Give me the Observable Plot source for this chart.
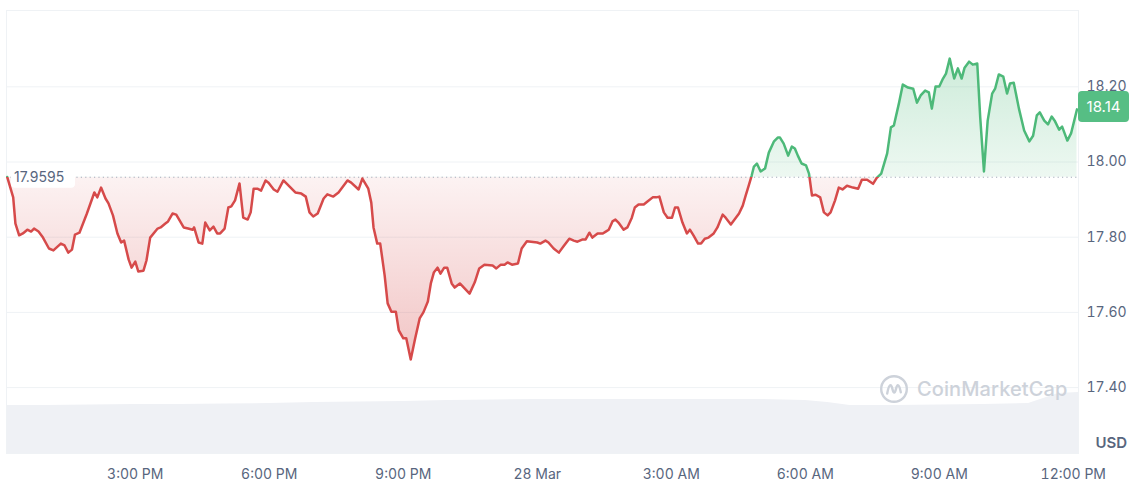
<!DOCTYPE html>
<html>
<head>
<meta charset="utf-8">
<script src="https://cdn.jsdelivr.net/npm/d3@7"></script>
<script src="https://cdn.jsdelivr.net/npm/@observablehq/plot@0.6"></script>
<style>
  html, body { margin: 0; padding: 0; background: #ffffff; }
  #wrap { position: relative; width: 1140px; height: 483px; overflow: hidden; font-family: Inter, "Noto Sans", sans-serif; }
  #wrap > svg, #wrap > figure { position: absolute; left: 0; top: 0; }
  #wm { position: absolute; left: 879px; top: 374px; display: flex; align-items: center; gap: 8px;
        color: #cdd2da; font: 500 20px Inter, sans-serif; letter-spacing: 0.1px; }
</style>
</head>
<body>
<div id="wrap"></div>
<script>
// ---------- data ----------
const times = [
  "03-27 12:08","03-27 12:16","03-27 12:19","03-27 12:24","03-27 12:29","03-27 12:35","03-27 12:40","03-27 12:44","03-27 12:50","03-27 12:56",
  "03-27 13:04","03-27 13:10","03-27 13:20","03-27 13:25","03-27 13:30","03-27 13:35","03-27 13:39","03-27 13:45","03-27 13:55","03-27 14:05",
  "03-27 14:09","03-27 14:14","03-27 14:20","03-27 14:24","03-27 14:30","03-27 14:36","03-27 14:41","03-27 14:45","03-27 14:51","03-27 14:55",
  "03-27 15:00","03-27 15:04","03-27 15:11","03-27 15:15","03-27 15:20","03-27 15:30","03-27 15:34","03-27 15:40","03-27 15:44","03-27 15:50",
  "03-27 15:55","03-27 16:05","03-27 16:11","03-27 16:17","03-27 16:19","03-27 16:25","03-27 16:30","03-27 16:34","03-27 16:40","03-27 16:45",
  "03-27 16:50","03-27 16:54","03-27 17:00","03-27 17:05","03-27 17:09","03-27 17:14","03-27 17:20","03-27 17:25","03-27 17:31","03-27 17:35",
  "03-27 17:39","03-27 17:44","03-27 17:49","03-27 17:55","03-27 17:59","03-27 18:06","03-27 18:11","03-27 18:19","03-27 18:26","03-27 18:35",
  "03-27 18:43","03-27 18:49","03-27 18:54","03-27 18:59","03-27 19:05","03-27 19:13","03-27 19:18","03-27 19:26","03-27 19:33","03-27 19:45",
  "03-27 19:50","03-27 20:00","03-27 20:05","03-27 20:13","03-27 20:17","03-27 20:20","03-27 20:25","03-27 20:29","03-27 20:35","03-27 20:39",
  "03-27 20:44","03-27 20:50","03-27 20:54","03-27 21:00","03-27 21:04","03-27 21:10","03-27 21:16","03-27 21:22","03-27 21:27","03-27 21:33",
  "03-27 21:37","03-27 21:41","03-27 21:46","03-27 21:50","03-27 21:55","03-27 21:59","03-27 22:05","03-27 22:09","03-27 22:16","03-27 22:29",
  "03-27 22:36","03-27 22:42","03-27 22:49","03-27 23:00","03-27 23:05","03-27 23:11","03-27 23:16","03-27 23:20","03-27 23:26","03-27 23:34",
  "03-27 23:39","03-27 23:46","03-28 00:00","03-28 00:04","03-28 00:11","03-28 00:15","03-28 00:22","03-28 00:29","03-28 00:35","03-28 00:43",
  "03-28 00:49","03-28 00:54","03-28 01:01","03-28 01:05","03-28 01:10","03-28 01:14","03-28 01:21","03-28 01:28","03-28 01:32","03-28 01:36",
  "03-28 01:41","03-28 01:45","03-28 01:49","03-28 01:56","03-28 02:01","03-28 02:07","03-28 02:11","03-28 02:16","03-28 02:23","03-28 02:28",
  "03-28 02:35","03-28 02:40","03-28 02:44","03-28 02:50","03-28 02:55","03-28 03:01","03-28 03:05","03-28 03:09","03-28 03:15","03-28 03:21",
  "03-28 03:25","03-28 03:30","03-28 03:36","03-28 03:40","03-28 03:45","03-28 03:50","03-28 03:57","03-28 04:02","03-28 04:09","03-28 04:13",
  "03-28 04:20","03-28 04:25","03-28 04:31","03-28 04:36","03-28 04:40","03-28 04:44","03-28 04:48","03-28 04:51","03-28 04:55","03-28 05:00",
  "03-28 05:06","03-28 05:11","03-28 05:18","03-28 05:23","03-28 05:26","03-28 05:31","03-28 05:37","03-28 05:42","03-28 05:46","03-28 05:50",
  "03-28 05:55","03-28 06:01","03-28 06:05","03-28 06:09","03-28 06:14","03-28 06:20","03-28 06:25","03-28 06:30","03-28 06:34","03-28 06:40",
  "03-28 06:45","03-28 06:50","03-28 06:56","03-28 07:04","03-28 07:11","03-28 07:16","03-28 07:23","03-28 07:31","03-28 07:36","03-28 07:42",
  "03-28 07:50","03-28 07:55","03-28 07:59","03-28 08:06","03-28 08:11","03-28 08:18","03-28 08:25","03-28 08:30","03-28 08:35","03-28 08:41",
  "03-28 08:46","03-28 08:50","03-28 08:55","03-28 09:00","03-28 09:05","03-28 09:09","03-28 09:14","03-28 09:20","03-28 09:25","03-28 09:30",
  "03-28 09:34","03-28 09:40","03-28 09:45","03-28 09:51","03-28 09:55","03-28 10:00","03-28 10:05","03-28 10:11","03-28 10:15","03-28 10:20",
  "03-28 10:26","03-28 10:31","03-28 10:35","03-28 10:40","03-28 10:47","03-28 10:54","03-28 11:01","03-28 11:06","03-28 11:11","03-28 11:15",
  "03-28 11:21","03-28 11:26","03-28 11:31","03-28 11:35","03-28 11:41","03-28 11:45","03-28 11:52","03-28 11:57","03-28 12:05"
];
const prices = [
  17.960,17.906,17.836,17.805,17.810,17.820,17.815,17.823,17.815,17.799,
  17.770,17.765,17.783,17.778,17.759,17.767,17.807,17.812,17.863,17.919,
  17.906,17.932,17.903,17.890,17.858,17.810,17.786,17.791,17.741,17.719,
  17.735,17.709,17.711,17.738,17.799,17.823,17.826,17.836,17.842,17.863,
  17.860,17.826,17.823,17.820,17.826,17.786,17.783,17.839,17.818,17.828,
  17.810,17.810,17.823,17.879,17.882,17.898,17.943,17.852,17.847,17.866,
  17.929,17.929,17.924,17.951,17.945,17.927,17.921,17.951,17.937,17.919,
  17.916,17.908,17.866,17.855,17.863,17.903,17.914,17.908,17.919,17.951,
  17.945,17.927,17.956,17.929,17.892,17.826,17.783,17.783,17.698,17.624,
  17.602,17.602,17.552,17.531,17.531,17.475,17.531,17.584,17.600,17.629,
  17.677,17.706,17.719,17.703,17.719,17.719,17.677,17.666,17.677,17.650,
  17.680,17.717,17.727,17.725,17.717,17.727,17.727,17.733,17.727,17.730,
  17.770,17.789,17.786,17.783,17.791,17.786,17.770,17.759,17.775,17.796,
  17.791,17.788,17.794,17.794,17.812,17.799,17.810,17.810,17.815,17.820,
  17.842,17.847,17.839,17.820,17.826,17.852,17.879,17.887,17.887,17.895,
  17.906,17.906,17.908,17.866,17.852,17.852,17.879,17.879,17.839,17.810,
  17.820,17.804,17.783,17.783,17.796,17.799,17.810,17.826,17.860,17.852,
  17.834,17.847,17.863,17.884,17.911,17.937,17.964,17.988,17.996,17.975,
  17.983,18.025,18.055,18.065,18.065,18.049,18.017,18.041,18.036,18.017,
  17.996,17.991,17.969,17.911,17.913,17.906,17.866,17.858,17.866,17.898,
  17.932,17.927,17.937,17.932,17.929,17.953,17.953,17.942,17.958,17.969,
  18.023,18.092,18.097,18.158,18.206,18.198,18.195,18.158,18.177,18.190,
  18.185,18.142,18.201,18.201,18.222,18.235,18.275,18.222,18.249,18.222,
  18.251,18.267,18.259,18.262,18.118,17.975,18.110,18.182,18.195,18.233,
  18.227,18.182,18.209,18.211,18.142,18.084,18.055,18.070,18.124,18.132,
  18.110,18.100,18.121,18.110,18.086,18.094,18.057,18.076,18.140
];
const refPrice = 17.9595;     // opening price (dotted baseline)
const lastPrice = 18.14;      // current price badge
const domainTimes = ["03-27 12:07", "03-28 12:07"];
const yTicks = [17.4, 17.6, 17.8, 18.0, 18.2];
const xTickTimes = ["03-27 15:00","03-27 18:00","03-27 21:00","03-28 00:00","03-28 03:00","03-28 06:00","03-28 09:00","03-28 12:00"];
const xTickLabels = ["3:00 PM","6:00 PM","9:00 PM","28 Mar","3:00 AM","6:00 AM","9:00 AM","12:00 PM"];
// 24h volume band at the bottom (relative units)
const volTimes = ["03-27 12:07","03-27 13:00","03-27 14:00","03-27 15:00","03-27 16:00","03-27 17:00","03-27 18:00","03-27 19:00",
  "03-27 20:00","03-27 21:00","03-27 22:00","03-27 23:00","03-28 00:00","03-28 01:00","03-28 02:00","03-28 03:00","03-28 04:00",
  "03-28 05:00","03-28 06:00","03-28 06:30","03-28 07:00","03-28 08:00","03-28 09:00","03-28 10:00","03-28 11:00","03-28 11:40","03-28 12:07"];
const volumes = [96,96,97,98,98,99,100,102,103,104,106,107,108,108,108,108,108,108,106,102,96,96,97,98,100,120,122];

// ---------- build ----------
const parse = s => d3.utcParse("%Y-%m-%d %H:%M")("2024-" + s);
const data = times.map((t, i) => ({time: parse(t), price: prices[i]}));
const volData = volTimes.map((t, i) => ({time: parse(t), vol: volumes[i]}));
const xDomain = domainTimes.map(parse);
const tickDates = xTickTimes.map(parse);
const labelOf = new Map(tickDates.map((d, i) => [+d, xTickLabels[i]]));

const W = 1140, H = 483;
const GREEN = "#4db979", RED = "#d64a4a", GRID = "#eff2f5", TEXT = "#58667e";

const vol = Plot.plot({
  width: W, height: H,
  marginLeft: 6, marginRight: 62, marginTop: 388, marginBottom: 30,
  style: {background: "transparent"},
  x: {type: "utc", domain: xDomain, axis: null},
  y: {domain: [0, 130], axis: null},
  marks: [
    Plot.areaY(volData, {x: "time", y: "vol", fill: "#eff1f5"})
  ]
});

const main = Plot.plot({
  width: W, height: H,
  marginLeft: 6, marginRight: 62, marginTop: 10, marginBottom: 30,
  style: {background: "transparent", fontFamily: "Inter, 'Noto Sans', sans-serif", fontSize: "14px", color: TEXT, overflow: "visible"},
  x: {type: "utc", domain: xDomain, ticks: tickDates, tickFormat: d => labelOf.get(+d), tickSize: 0, tickPadding: 16, label: null},
  y: {domain: [17.2247, 18.403], axis: "right", ticks: yTicks, tickFormat: d => d.toFixed(2), tickSize: 0, tickPadding: 8, label: null},
  marks: [
    Plot.frame({stroke: GRID}),
    Plot.ruleY(yTicks, {stroke: GRID}),
    Plot.areaY(data, {x: "time", y1: refPrice, y2: "price", fill: "url(#fillGrad)"}),
    Plot.ruleY([refPrice], {stroke: "#a3abb9", strokeDasharray: "1.2,3.2"}),
    Plot.lineY(data, {x: "time", y: "price", stroke: "url(#lineGrad)", strokeWidth: 2.5}),
    Plot.text(["USD"], {frameAnchor: "bottom-right", dx: 17, dy: -6, textAnchor: "start", fontWeight: 600, fill: TEXT, fontSize: 15})
  ]
});

const wrap = document.getElementById("wrap");
wrap.appendChild(vol);
wrap.appendChild(main);

// gradients that switch colour at the opening price, positioned through Plot's own y scale
const ys = main.scale("y"), xs = main.scale("x");
const refY = ys.apply(refPrice);
const topY = ys.apply(d3.max(prices)), botY = ys.apply(d3.min(prices));
const svg = d3.select(main.tagName.toLowerCase() === "svg" ? main : main.querySelector("svg"));
const defs = svg.insert("defs", ":first-child");
const lg = defs.append("linearGradient").attr("id", "lineGrad").attr("gradientUnits", "userSpaceOnUse")
  .attr("x1", 0).attr("x2", 0).attr("y1", 0).attr("y2", H);
const r = refY / H;
[[0, GREEN], [r, GREEN], [r, RED], [1, RED]].forEach(([o, c]) => lg.append("stop").attr("offset", o).attr("stop-color", c));
const fg = defs.append("linearGradient").attr("id", "fillGrad").attr("gradientUnits", "userSpaceOnUse")
  .attr("x1", 0).attr("x2", 0).attr("y1", topY).attr("y2", botY);
const rf = (refY - topY) / (botY - topY);
[[0, GREEN, 0.28], [rf, GREEN, 0.1], [rf, RED, 0.07], [1, RED, 0.32]]
  .forEach(([o, c, a]) => fg.append("stop").attr("offset", o).attr("stop-color", c).attr("stop-opacity", a));

// opening-price label on the left
const x0 = xs.apply(xDomain[0]);
const refG = svg.append("g").attr("text-anchor", "start");
refG.append("rect").attr("x", x0 + 5).attr("y", refY - 11).attr("width", 64).attr("height", 22).attr("rx", 4).attr("fill", "#ffffff");
refG.append("text").attr("x", x0 + 8).attr("y", refY).attr("dy", "0.35em").attr("fill", TEXT).attr("text-anchor", "start")
  .attr("font-size", 14).attr("font-family", "Inter, sans-serif").text(refPrice.toFixed(4));

// current-price badge on the right
const x1 = xs.apply(xDomain[1]);
const lastY = ys.apply(lastPrice);
const badge = svg.append("g");
badge.append("rect").attr("x", x1).attr("y", lastY - 18).attr("width", 51).attr("height", 31).attr("rx", 4).attr("fill", "#56be84");
badge.append("text").attr("x", x1 + 25.5).attr("y", lastY - 2.5).attr("dy", "0.35em").attr("text-anchor", "middle")
  .attr("fill", "#ffffff").attr("font-size", 15).attr("font-family", "Inter, sans-serif").text(lastPrice.toFixed(2));

// watermark
const wm = document.createElement("div");
wm.id = "wm";
wm.innerHTML = '<svg width="30" height="30" viewBox="0 0 30 30"><circle cx="15" cy="15" r="12.8" fill="none" stroke="#cdd2da" stroke-width="2.4"/>' +
  '<path d="M8.2 19.5 C9 15 10 11.2 11.6 11.2 C13.4 11.2 13.4 18.5 15.2 18.5 C17 18.5 17 11.2 18.8 11.2 C20.4 11.2 21.2 15 21.8 18.2" fill="none" stroke="#cdd2da" stroke-width="2.4" stroke-linecap="round"/></svg>' +
  '<span>CoinMarketCap</span>';
wrap.appendChild(wm);
</script>
</body>
</html>
